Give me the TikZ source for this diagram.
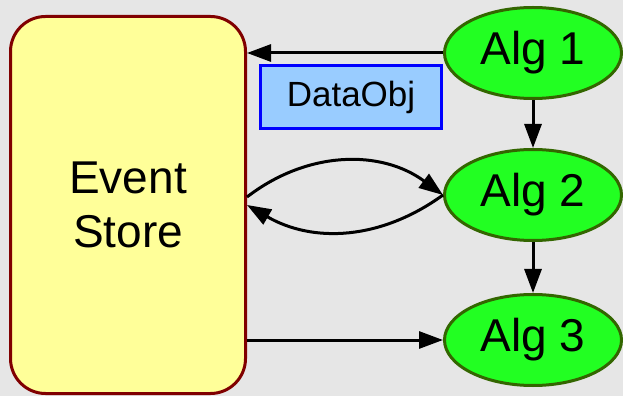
\documentclass[tikz,border=0pt]{standalone}
\usepackage{fontspec}
\setmainfont{Liberation Sans}
\definecolor{mBack}{HTML}{E6E6E6}
\definecolor{mStore}{HTML}{FFFF99}
\definecolor{mStoreLine}{HTML}{800000}
\definecolor{mAlg}{HTML}{22FF22}
\definecolor{mAlgLine}{HTML}{336600}
\definecolor{mData}{HTML}{99CCFF}
\definecolor{mDataLine}{HTML}{0000FF}
\usetikzlibrary{arrows.meta, positioning, shapes.geometric}

\begin{document}
\begin{tikzpicture}[x=1pt, y=1pt,
  flow/.style={line width=3pt, -{Triangle[length=24pt, width=17pt]}},
  alg/.style={ellipse, draw=mAlgLine, line width=3pt, fill=mAlg, inner sep=0pt,
              minimum width=177pt, minimum height=91pt,
              font=\fontsize{46}{50}\selectfont}]
\fill[mBack] (0,0) rectangle (623,396);
\useasboundingbox (0,0) rectangle (623,396);

% the store and the algorithms around it
\node[draw=mStoreLine, line width=3pt, rounded corners=35pt, fill=mStore,
      minimum width=235pt, minimum height=377pt, align=center,
      font=\fontsize{46}{54}\selectfont] (store) at (128,191)
  {Event\\Store};
\node[alg] (alg1) at (533,343) {Alg 1};
\node[alg] (alg2) at (533,201) {Alg 2};
\node[alg] (alg3) at (533,56) {Alg 3};
\node[draw=mDataLine, line width=3pt, fill=mData, inner sep=0pt,
      minimum width=181pt, minimum height=63pt,
      font=\fontsize{35}{40}\selectfont] (data) at (351,299) {DataObj};

% data flow
\draw[flow] (alg1.west) -- (alg1.west -| store.east);
\draw[flow] (alg1) -- (alg2);
\draw[flow] (alg2) -- (alg3);
\draw[flow] ([yshift=8pt]store.east) to[bend left=37] (alg2.west);
\draw[flow] (alg2.west) to[bend left=33] (store.east);
\draw[flow] (store.east |- alg3.west) -- (alg3.west);
\end{tikzpicture}
\end{document}
